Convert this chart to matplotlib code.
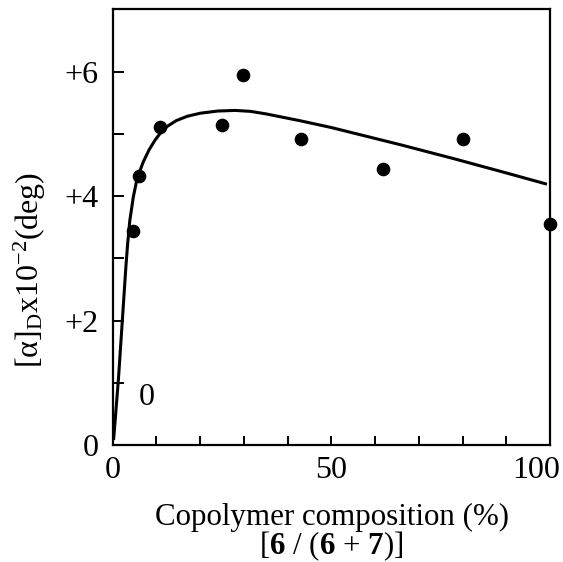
import matplotlib
matplotlib.use("Agg")
import matplotlib.pyplot as plt
import matplotlib.transforms as mtransforms

plt.rcParams['font.family'] = ['Liberation Serif', 'DejaVu Serif']
plt.rcParams['mathtext.fontset'] = 'custom'
plt.rcParams['mathtext.rm'] = 'Liberation Serif'
plt.rcParams['mathtext.it'] = 'Liberation Serif:italic'
plt.rcParams['mathtext.bf'] = 'Liberation Serif:bold'

# measured specific rotation vs copolymer composition
comp_pct = [4.7, 5.9, 10.7, 24.9, 29.9, 43.0, 61.9, 80.0, 100.0]
rotation = [3.44, 4.32, 5.11, 5.14, 5.95, 4.92, 4.44, 4.92, 3.55]

# calculated curve
curve_x = [0.2, 1.3, 2.2, 3.0, 3.4, 3.9, 4.7, 5.4, 6.2, 7.0, 8.3, 9.7, 11.0,
           12.5, 14.5, 17.0, 20.0, 24.0, 28.0, 31.5, 35.0, 42.8, 50.0, 58.0,
           66.0, 78.0, 89.0, 99.3]
curve_y = [0.08, 1.05, 2.00, 2.85, 3.22, 3.60, 3.98, 4.22, 4.40, 4.55, 4.74,
           4.90, 5.02, 5.12, 5.21, 5.28, 5.33, 5.365, 5.375, 5.36, 5.32, 5.21,
           5.10, 4.96, 4.82, 4.60, 4.39, 4.19]

xticks = [0, 50, 100]
yticks = [0, 2, 4, 6]
ytick_labels = ['0', '+2', '+4', '+6']

fs = 23

fig = plt.figure(figsize=(5.63, 5.62), dpi=100)
ax = fig.add_axes([0.2002, 0.2082, 0.7767, 0.7753])

ax.plot(curve_x, curve_y, color='black', lw=2.2, solid_capstyle='butt',
        solid_joinstyle='round')
ax.plot(comp_pct, rotation, 'o', color='black', ms=8.8, clip_on=False)

ax.set_xlim(0, 100)
ax.set_ylim(0, 7)
ax.set_xticks(xticks)
ax.set_xticks(range(0, 101, 10), minor=True)
ax.set_yticks(yticks)
ax.set_yticklabels(ytick_labels)
ax.set_yticks(range(0, 7), minor=True)

ax.tick_params(which='both', direction='in', width=1.4, top=False, right=False)
ax.tick_params(axis='x', which='both', length=6.5)
ax.tick_params(axis='y', which='both', length=8)
ax.tick_params(axis='x', which='major', labelsize=fs, pad=8)
ax.tick_params(axis='y', which='major', labelsize=fs, pad=10)

for s in ax.spines.values():
    s.set_linewidth(1.6)

# keep the "100" label inside the figure
last = ax.get_xticklabels()[-1]
last.set_transform(last.get_transform() +
                   mtransforms.ScaledTranslation(-14 / 100, 0, fig.dpi_scale_trans))

ax.text(7.8, 0.76, '0', fontsize=fs, ha='center', va='center')

fig.text(30 / 563, 1 - 270 / 562, r'[α]$_{\mathrm{D}}$x10$^{-2}$(deg)',
         rotation=90, ha='center', va='center', fontsize=fs)
fig.text(332 / 563, 1 - 517 / 562, 'Copolymer composition (%)',
         ha='center', va='center', fontsize=22.3)
fig.text(331 / 563, 1 - 546 / 562,
         r'[$\mathbf{6}$ / ($\mathbf{6}$ + $\mathbf{7}$)]',
         ha='center', va='center', fontsize=22.3)

fig.savefig('out.png', dpi=100)
